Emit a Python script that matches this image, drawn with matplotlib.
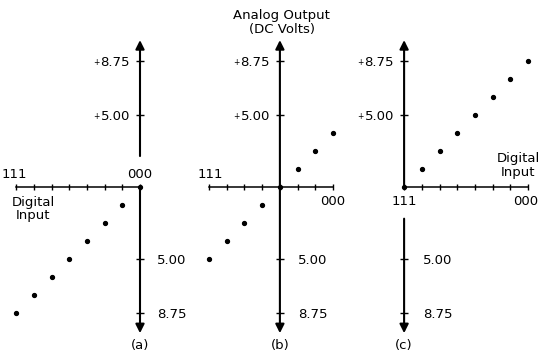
import matplotlib
matplotlib.use('Agg')
import matplotlib.pyplot as plt
import numpy as np

# ---- data -------------------------------------------------------------
codes = ['000', '001', '010', '011', '100', '101', '110', '111']
code_index = np.arange(len(codes))          # 0 = 000 ... 7 = 111
volts_a = [0.0, -1.25, -2.5, -3.75, -5.0, -6.25, -7.5, -8.75]
volts_b = [3.75, 2.5, 1.25, 0.0, -1.25, -2.5, -3.75, -5.0]
volts_c = [8.75, 7.5, 6.25, 5.0, 3.75, 2.5, 1.25, 0.0]
volt_ticks = [5.00, 8.75]
volt_tick_labels = ['5.00', '8.75']
panel_labels = ['(a)', '(b)', '(c)']
axis_code = [0, 3, 7]        # code where the vertical (voltage) axis sits
series = [volts_a, volts_b, volts_c]

# ---- layout -----------------------------------------------------------
W, H = 540, 356
PX_PER_CODE = 17.7
PX_PER_VOLT = 14.4
AXIS_Y = 187                  # pixel row of 0 V
panel_x000 = [140, 333, 528]  # pixel column of code 000 in each panel
V_TOP, V_BOT = 10.2, -10.15
upper_start = [2.15, 0.0, 0.0]   # where upper vertical segment starts (V)
lower_start = [0.0, 0.0, -2.2]   # where lower vertical segment starts (V)

FS = 9.5
plt.rcParams['font.family'] = ['DejaVu Sans']

fig = plt.figure(figsize=(W / 100, H / 100), dpi=100)
fig.patch.set_facecolor('white')

arrow_kw = dict(arrowstyle='-|>', color='black', lw=1.5,
                mutation_scale=13, shrinkA=0, shrinkB=0)

def lab(ax, s, xy, off, ha='center', va='baseline', fs=FS):
    return ax.annotate(s, xy=xy, xytext=off, textcoords='offset pixels',
                       ha=ha, va=va, fontsize=fs, color='black')

for p in range(3):
    ax = fig.add_axes([0, 0, 1, 1])
    ax.patch.set_alpha(0)
    x0 = panel_x000[p]
    ax.set_xlim(-x0 / PX_PER_CODE, (W - x0) / PX_PER_CODE)
    ax.set_ylim((AXIS_Y - H) / PX_PER_VOLT, AXIS_Y / PX_PER_VOLT)
    ax.axis('off')

    xa = -axis_code[p]
    xs = -code_index

    # vertical axis (two arrows)
    ax.annotate('', xy=(xa, V_TOP), xytext=(xa, upper_start[p]), arrowprops=arrow_kw)
    ax.annotate('', xy=(xa, V_BOT), xytext=(xa, lower_start[p]), arrowprops=arrow_kw)

    # horizontal (digital) axis with ticks
    ax.plot([xs.min(), xs.max()], [0, 0], color='black', lw=1.1)
    ax.plot(xs, np.zeros_like(xs), '|', color='black', ms=5, mew=1.0)

    # voltage ticks
    vt = np.array(volt_ticks)
    ax.plot([xa] * 4, np.concatenate([vt, -vt]), '_', color='black', ms=6, mew=1.0)

    # data points
    ax.plot(xs, series[p], 'o', color='black', ms=2.8, mec='black')

    # voltage tick labels
    for v, s in zip(volt_ticks, volt_tick_labels):
        t = lab(ax, s, (xa, v), (-10, -4.8), ha='right')
        ax.annotate('+', xy=(0, 0.45), xycoords=t, xytext=(-1, 0),
                    textcoords='offset pixels', ha='right', va='center',
                    fontsize=5.5, color='black')
        lab(ax, s, (xa, -v), (17 + p, -4.8), ha='left')

    # panel label
    lab(ax, panel_labels[p], (xa, V_BOT), (0, -16))

    # code end labels
    if p == 0:
        lab(ax, codes[-1], (-7, 0), (-2, 8.5))
        lab(ax, codes[0], (0, 0), (0, 8.5))
        lab(ax, 'Digital', (-7, 0), (17, -19))
        lab(ax, 'Input', (-7, 0), (17, -32.5))
    elif p == 1:
        lab(ax, codes[-1], (-7, 0), (1, 8.5))
        lab(ax, codes[0], (0, 0), (0, -18))
        lab(ax, 'Analog Output', (xa, V_TOP), (2, 21.5))
        lab(ax, '(DC Volts)', (xa, V_TOP), (2, 7.5))
    else:
        lab(ax, codes[-1], (-7, 0), (0, -18))
        lab(ax, codes[0], (0, 0), (-2.5, -18))
        lab(ax, 'Digital', (0, 0), (-10, 25))
        lab(ax, 'Input', (0, 0), (-10, 11))

fig.savefig('out.png', dpi=100, facecolor='white')
